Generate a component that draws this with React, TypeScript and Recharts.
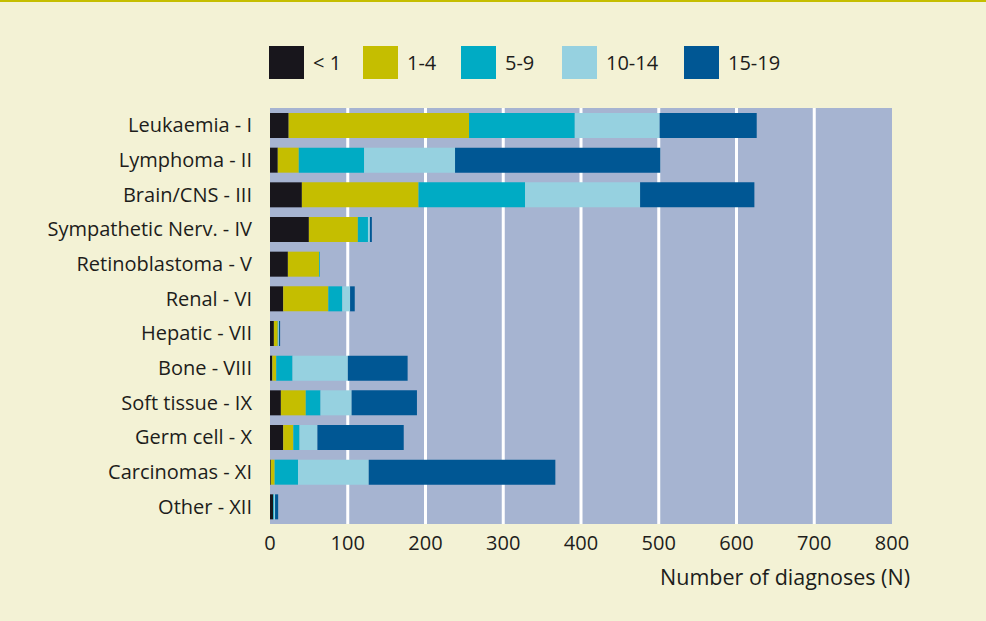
import { BarChart, Bar, XAxis, YAxis, CartesianGrid, Legend } from 'recharts';

const categories = [
  'Leukaemia - I',
  'Lymphoma - II',
  'Brain/CNS - III',
  'Sympathetic Nerv. - IV',
  'Retinoblastoma - V',
  'Renal - VI',
  'Hepatic - VII',
  'Bone - VIII',
  'Soft tissue - IX',
  'Germ cell - X',
  'Carcinomas - XI',
  'Other - XII',
];

const under1 = [24, 10, 41, 50, 23, 17, 5, 3, 14, 17, 1, 4];
const age1to4 = [232, 27, 150, 63, 40, 58, 5, 5, 32, 13, 5, 0];
const age5to9 = [136, 84, 137, 13, 1, 18, 0.5, 21, 19, 8, 30, 1];
const age10to14 = [109, 117, 148, 2.5, 0, 10, 1, 71, 40, 23, 91, 1.5];
const age15to19 = [125, 264, 147, 2.5, 0, 6, 1.5, 77, 84, 111, 240, 4];

const xTicks = [0, 100, 200, 300, 400, 500, 600, 700, 800];

const data = categories.map((name, i) => ({
  name,
  under1: under1[i],
  age1to4: age1to4[i],
  age5to9: age5to9[i],
  age10to14: age10to14[i],
  age15to19: age15to19[i],
}));

const SERIES = [
  { key: 'under1', label: '< 1', color: '#18161c' },
  { key: 'age1to4', label: '1-4', color: '#c5be00' },
  { key: 'age5to9', label: '5-9', color: '#00abc4' },
  { key: 'age10to14', label: '10-14', color: '#96d1e0' },
  { key: 'age15to19', label: '15-19', color: '#005794' },
];

// legend item slot widths (swatch + text + gap)
const LEGEND_WIDTHS = [94, 98, 101, 122, 100];

const FONT = '"Open Sans", sans-serif';
const TEXT = '#1d1d1b';

function LegendContent() {
  return (
    <div style={{ display: 'flex', alignItems: 'center', fontFamily: FONT, fontSize: 20, color: TEXT }}>
      {SERIES.map((s, i) => (
        <div key={s.key} style={{ display: 'flex', alignItems: 'center', width: LEGEND_WIDTHS[i] }}>
          <div style={{ width: 35, height: 33, background: s.color, marginRight: 9 }} />
          <span>{s.label}</span>
        </div>
      ))}
    </div>
  );
}

export default function App() {
  return (
    <div
      style={{
        position: 'absolute',
        left: 0,
        top: 0,
        width: 986,
        height: 621,
        background: '#f3f2d5',
        borderTop: '2px solid #c5be00',
        boxSizing: 'border-box',
      }}
    >
      <BarChart
        width={986}
        height={619}
        data={data}
        layout="vertical"
        margin={{ top: 73, right: 94, left: 0, bottom: 33 }}
        barSize={25}
      >
        <CartesianGrid
          horizontal={false}
          fill="#a6b4d1"
          fillOpacity={1}
          stroke="#ffffff"
          strokeWidth={3}
          verticalCoordinatesGenerator={({ offset }: any) =>
            xTicks.slice(1, -1).map((v) => offset.left + (v / 800) * offset.width)
          }
        />
        <XAxis
          type="number"
          domain={[0, 800]}
          ticks={xTicks}
          axisLine={false}
          tickLine={false}
          tickMargin={6}
          height={64}
          tick={{ fill: TEXT, fontSize: 20, fontFamily: FONT }}
          label={{
            value: 'Number of diagnoses (N)',
            position: 'insideBottomRight',
            offset: 0,
            dx: 18,
            dy: -3,
            fill: TEXT,
            fontSize: 21.5,
            fontFamily: FONT,
          }}
        />
        <YAxis
          type="category"
          dataKey="name"
          width={270}
          axisLine={false}
          tickLine={false}
          tickMargin={12}
          interval={0}
          tick={{ fill: TEXT, fontSize: 20, fontFamily: FONT }}
        />
        <Legend
          verticalAlign="top"
          align="left"
          content={<LegendContent />}
          wrapperStyle={{ top: 44, left: 269, width: 'auto' }}
        />
        {SERIES.map((s) => (
          <Bar
            key={s.key}
            dataKey={s.key}
            name={s.label}
            stackId="a"
            fill={s.color}
            isAnimationActive={false}
          />
        ))}
      </BarChart>
    </div>
  );
}
